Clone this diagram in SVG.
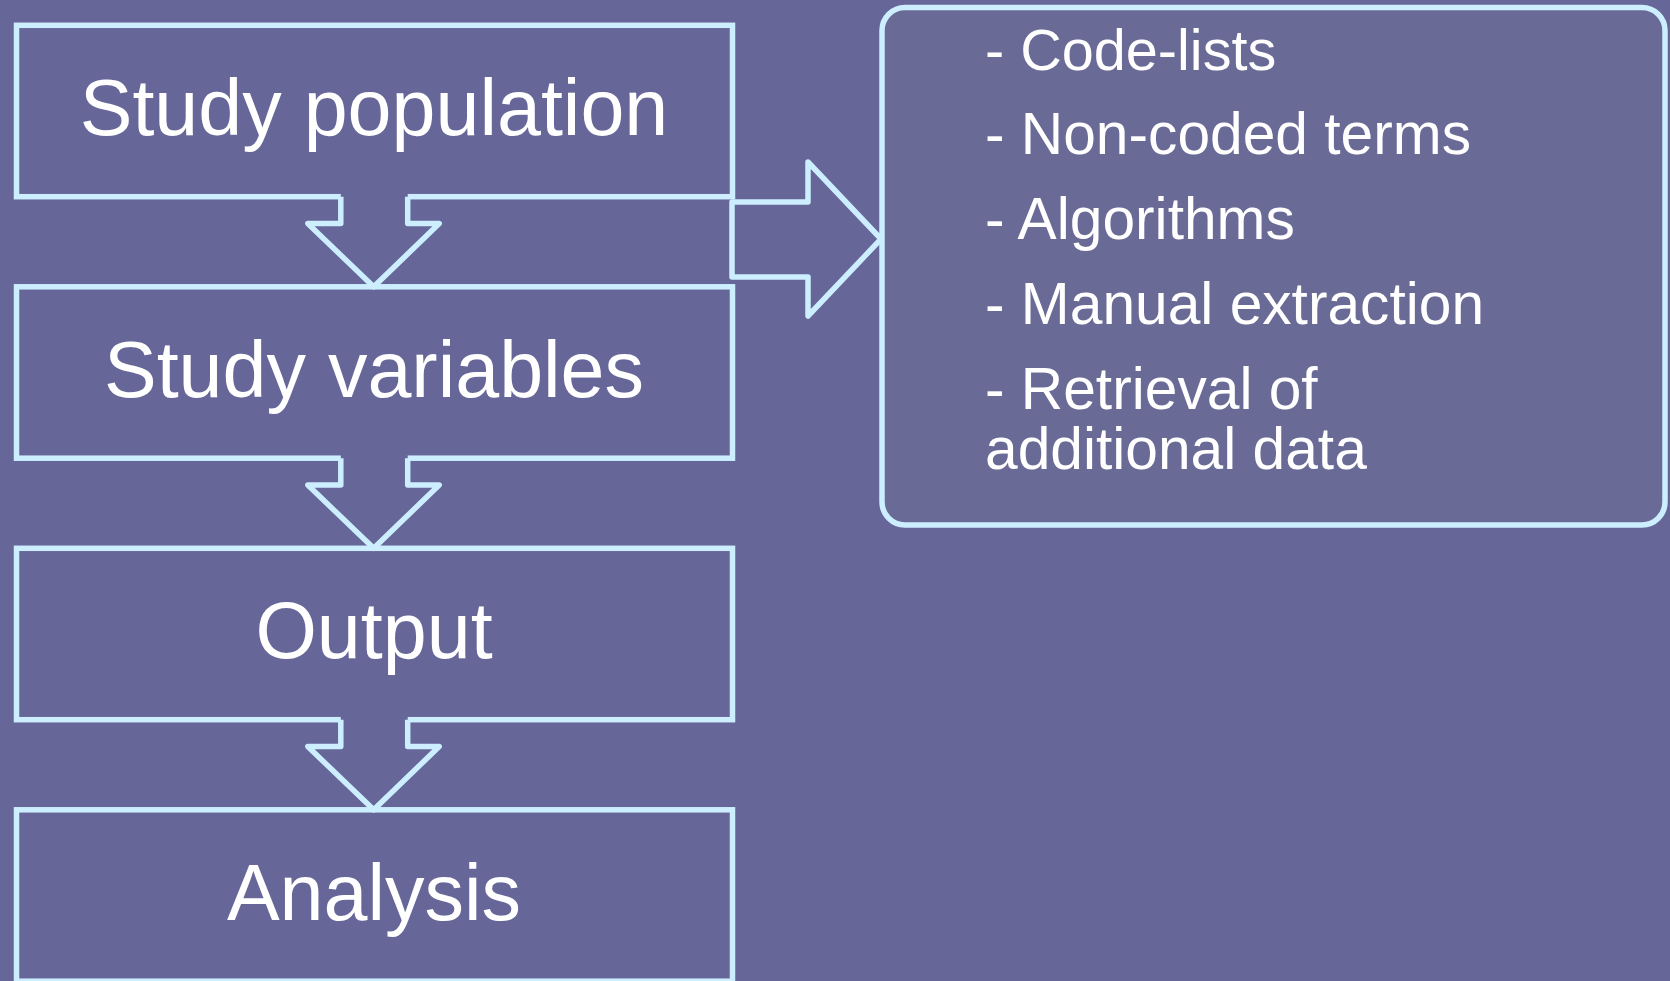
<svg xmlns="http://www.w3.org/2000/svg" width="1670" height="981" viewBox="0 0 1670 981">
  <style>
    .bg { fill: #666699; }
    .box { fill: #666699; stroke: #CCEEFF; stroke-width: 5.5; }
    .note { fill: #6A6A97; stroke: #CCEEFF; stroke-width: 5.5; }
    .arrow-fill { fill: #666699; stroke: none; }
    .arrow-line { fill: none; stroke: #CCEEFF; stroke-width: 5.5; stroke-linejoin: round; }
    .label { font-family: "Liberation Sans", Arial, sans-serif; font-size: 79px; fill: #FFFFFF; text-anchor: middle; }
    .item { font-family: "Liberation Sans", Arial, sans-serif; font-size: 58.7px; fill: #FFFFFF; }
    .item.first { font-size: 57.6px; }
  </style>

  <rect class="bg" x="0" y="0" width="1670" height="981"/>

  <!-- flow steps -->
  <g id="node-study-population">
    <rect class="box" x="16.5" y="25.3" width="716" height="171.4"/>
    <text class="label" x="374" y="135">Study population</text>
  </g>
  <g id="node-study-variables">
    <rect class="box" x="16.5" y="286.8" width="716" height="171.4"/>
    <text class="label" x="374" y="396.5">Study variables</text>
  </g>
  <g id="node-output">
    <rect class="box" x="16.5" y="548.3" width="716" height="171.4"/>
    <text class="label" x="374" y="658">Output</text>
  </g>
  <g id="node-analysis">
    <rect class="box" x="16.5" y="809.8" width="716" height="171.4"/>
    <text class="label" x="374" y="919.5">Analysis</text>
  </g>

  <!-- methods list -->
  <g id="node-methods">
    <rect class="note" x="882" y="7.5" width="783" height="517.5" rx="23" ry="23"/>
    <text class="item first" x="985" y="69.5">- Code-lists</text>
    <text class="item" x="985" y="154.3">- Non-coded terms</text>
    <text class="item" x="985" y="239">- Algorithms</text>
    <text class="item" x="985" y="323.8">- Manual extraction</text>
    <text class="item" x="985" y="408.5">- Retrieval of</text>
    <text class="item" x="985" y="468.5">additional data</text>
  </g>

  <!-- block arrows between the steps -->
  <g id="connectors">
    <g id="arrow-1">
      <polygon class="arrow-fill" points="340.8,192 407.7,192 407.7,223.5 439.2,223.5 373.7,286.8 307.8,223.5 340.8,223.5"/>
      <polyline class="arrow-line" points="340.8,196.7 340.8,223.5 307.8,223.5 373.7,286.8 439.2,223.5 407.7,223.5 407.7,196.7"/>
    </g>
    <g id="arrow-2">
      <polygon class="arrow-fill" points="340.8,453.5 407.7,453.5 407.7,485 439.2,485 373.7,548.3 307.8,485 340.8,485"/>
      <polyline class="arrow-line" points="340.8,458.2 340.8,485 307.8,485 373.7,548.3 439.2,485 407.7,485 407.7,458.2"/>
    </g>
    <g id="arrow-3">
      <polygon class="arrow-fill" points="340.8,715 407.7,715 407.7,746.5 439.2,746.5 373.7,809.8 307.8,746.5 340.8,746.5"/>
      <polyline class="arrow-line" points="340.8,719.7 340.8,746.5 307.8,746.5 373.7,809.8 439.2,746.5 407.7,746.5 407.7,719.7"/>
    </g>
    <g id="arrow-side">
      <polygon class="arrow-line" points="732,202 808,202 808,162 881,239 808,316 808,277 732,277"/>
    </g>
  </g>
</svg>
